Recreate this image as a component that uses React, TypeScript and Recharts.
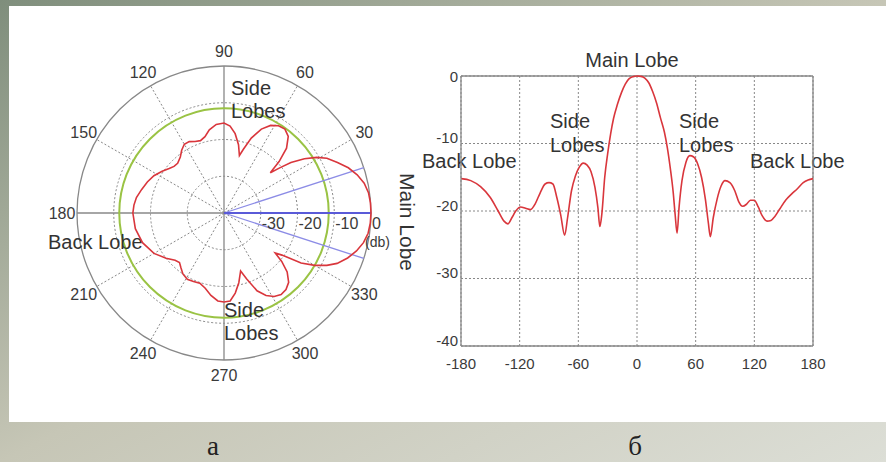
import React from "react";
import {
  RadarChart,
  Radar,
  PolarGrid,
  PolarAngleAxis,
  PolarRadiusAxis,
  LineChart,
  Line,
  XAxis,
  YAxis,
  CartesianGrid,
  ReferenceLine,
} from "recharts";

// Диаграмма направленности: угол (град) и уровень (дБ)
const angles = [
  -180, -170, -160, -150, -142, -136, -132, -128, -124, -119, -114, -109, -104, -99, -94, -90,
  -86, -82, -78, -74, -71, -67, -63, -59, -55, -51, -47, -43, -40, -38, -36, -33, -30, -27,
  -24, -20, -16, -12, -8, -4, 0, 4, 8, 12, 16, 20, 24, 28, 31, 34, 37, 39, 41, 43, 46, 50,
  54, 58, 62, 66, 70, 73, 75, 78, 82, 86, 90, 95, 100, 104, 108, 112, 116, 120, 124, 128,
  133, 137, 141, 146, 152, 158, 164, 170, 175, 180,
];
const gainDb = [
  -15.2, -15.5, -16.4, -18.0, -20.0, -21.5, -21.9, -21.0, -20.0, -19.4, -19.6, -19.8, -18.9,
  -17.3, -16.0, -15.8, -16.0, -18.0, -20.6, -23.6, -21.0, -17.0, -14.8, -13.5, -12.9, -13.2,
  -14.2, -16.5, -19.5, -22.3, -20.5, -15.0, -11.5, -8.6, -6.3, -4.2, -2.5, -1.2, -0.4, -0.1,
  0, -0.05, -0.3, -1.0, -2.3, -4.0, -6.2, -8.3, -10.6, -13.6, -17.2, -20.5, -23.3, -19.5,
  -15.5, -12.8, -11.8, -12.0, -13.0, -15.0, -18.3, -21.8, -23.8, -21.0, -18.2, -16.3, -15.5,
  -15.8, -17.0, -18.6, -19.3, -19.0, -18.4, -18.4, -19.4, -20.7, -21.5, -21.4, -20.8, -19.7,
  -18.4, -17.5, -16.7, -15.8, -15.4, -15.2,
];

const angleTicks = [-180, -120, -60, 0, 60, 120, 180];
const dbTicks = [-40, -30, -20, -10, 0];
const polarLabelAngles = [-150, -120, -90, -60, -30, 30, 60, 90, 120, 150, 180];
const ringDb = [-30, -20, -10];
const thresholdDb = -11.5;
const beamAngles = [18, -18];

const data = angles.map((a, i) => ({ angle: a, db: gainDb[i] }));

const CX = 224;
const CY = 213;
const R = 147;
const dbToPx = (v: number) => ((v + 40) / 40) * R;

const FONT = "'Liberation Sans', Arial, sans-serif";
const TEXT = "#333";
const TICK = "#3a3a3a";

const PolarTick = (props: any) => {
  const { x, y, payload } = props;
  const dx = x - CX;
  const dy = y - CY;
  const len = Math.hypot(dx, dy) || 1;
  const k = 162 / len;
  const v = payload.value < 0 ? payload.value + 360 : payload.value;
  return (
    <text
      x={CX + dx * k}
      y={CY + dy * k}
      textAnchor="middle"
      dominantBaseline="central"
      fontSize={16}
      fontFamily={FONT}
      fill={TICK}
    >
      {v}
    </text>
  );
};

const RadiusTick = (props: any) => {
  const { x, y, payload } = props;
  if (payload.value === -40) return <g />;
  return (
    <g>
      <text x={x + 1} y={y + 10} dominantBaseline="central" fontSize={16} fontFamily={FONT} fill={TICK}>
        {payload.value}
      </text>
      {payload.value === 0 && (
        <text x={x - 6} y={y + 29} dominantBaseline="central" fontSize={14} fontFamily={FONT} fill={TICK}>
          (db)
        </text>
      )}
    </g>
  );
};

const YTick = (props: any) => {
  const { x, y, payload } = props;
  return (
    <text x={x} y={payload.value === 0 ? y : y - 6} textAnchor="end" dominantBaseline="central" fontSize={15} fontFamily={FONT} fill={TICK}>
      {payload.value}
    </text>
  );
};

const label = (x: number, y: number, t: string, extra: any = {}) => (
  <text x={x} y={y} dominantBaseline="central" fontSize={20} fontFamily={FONT} fill={TEXT} {...extra}>
    {t}
  </text>
);

const captionStyle: React.CSSProperties = {
  position: "absolute",
  top: 431,
  width: 40,
  textAlign: "center",
  fontFamily: "'Liberation Serif', serif",
  fontSize: 27,
  lineHeight: "normal",
  color: "#222",
};

export default function App() {
  return (
    <div
      style={{
        position: "absolute",
        left: 0,
        top: 0,
        width: 886,
        height: 462,
        overflow: "hidden",
        background: "linear-gradient(to bottom right, #7f8e7c 0%, #c6c6b6 50%, #dcded6 100%)",
      }}
    >
      <div style={{ position: "absolute", left: 9, top: 6, width: 877, height: 416, background: "#fff" }} />

      <div style={{ position: "absolute", left: 0, top: 0 }}>
        <RadarChart width={440} height={420} data={data} cx={CX} cy={CY} outerRadius={R} startAngle={-180} endAngle={180}>
          <PolarGrid
            gridType="circle"
            polarAngles={[30, 60, 120, 150, 210, 240, 300, 330]}
            polarRadius={ringDb.map(dbToPx)}
            stroke="#888"
            strokeDasharray="2 2"
          />
          <PolarGrid gridType="circle" polarAngles={[0, 90, 180, 270]} polarRadius={[R]} stroke="#888" strokeWidth={1.3} />
          <PolarGrid gridType="circle" radialLines={false} polarAngles={[0]} polarRadius={[dbToPx(thresholdDb)]} stroke="#9ac344" strokeWidth={2} />
          <PolarGrid gridType="circle" polarAngles={beamAngles} polarRadius={[]} stroke="#8c8ce6" strokeWidth={1.3} />
          <PolarGrid gridType="circle" polarAngles={[0]} polarRadius={[]} stroke="#5a5ad8" strokeWidth={2} />
          <PolarAngleAxis
            dataKey="angle"
            type="number"
            domain={[-180, 180]}
            ticks={polarLabelAngles}
            tick={PolarTick}
            tickLine={false}
            axisLine={false}
          />
          <PolarRadiusAxis
            angle={0}
            type="number"
            domain={[-40, 0]}
            tickCount={5}
            tick={RadiusTick}
            tickLine={false}
            axisLine={false}
          />
          <Radar dataKey="db" stroke="#d9363c" strokeWidth={1.6} fill="none" fillOpacity={0} dot={false} isAnimationActive={false} />
          {label(231, 88, "Side")}
          {label(231, 111, "Lobes")}
          {label(224, 310, "Side")}
          {label(224, 333, "Lobes")}
          {label(48, 242, "Back Lobe")}
          <text
            x={407}
            y={222}
            textAnchor="middle"
            dominantBaseline="central"
            fontSize={21}
            fontFamily={FONT}
            fill={TEXT}
            transform="rotate(90 407 222)"
          >
            Main Lobe
          </text>
        </RadarChart>
      </div>

      <div style={{ position: "absolute", left: 420, top: 40 }}>
        <LineChart width={440} height={350} data={data} margin={{ top: 36, right: 47, left: 0, bottom: 0 }}>
          <CartesianGrid stroke="#888" strokeDasharray="2 2" />
          <XAxis
            dataKey="angle"
            type="number"
            domain={[-180, 180]}
            ticks={angleTicks}
            height={44}
            tickSize={0}
            tickMargin={12}
            stroke="#888"
            strokeWidth={1.3}
            tick={{ fontSize: 15, fontFamily: FONT, fill: TICK }}
          />
          <YAxis
            type="number"
            domain={[-40, 0]}
            ticks={dbTicks}
            width={41}
            tickSize={0}
            tickMargin={3}
            stroke="#888"
            strokeWidth={1.3}
            tick={YTick}
          />
          <ReferenceLine y={0} stroke="#888" strokeWidth={1.3} />
          <ReferenceLine x={180} stroke="#888" strokeWidth={1.3} />
          <Line type="monotone" dataKey="db" stroke="#d9363c" strokeWidth={1.6} dot={false} isAnimationActive={false} />
          {label(212, 20, "Main Lobe", { textAnchor: "middle" })}
          {label(130, 81, "Side")}
          {label(130, 105, "Lobes")}
          {label(259, 81, "Side")}
          {label(259, 105, "Lobes")}
          {label(2, 121, "Back Lobe")}
          {label(330, 121, "Back Lobe")}
        </LineChart>
      </div>

      <div style={{ ...captionStyle, left: 193 }}>а</div>
      <div style={{ ...captionStyle, left: 615 }}>б</div>
    </div>
  );
}
